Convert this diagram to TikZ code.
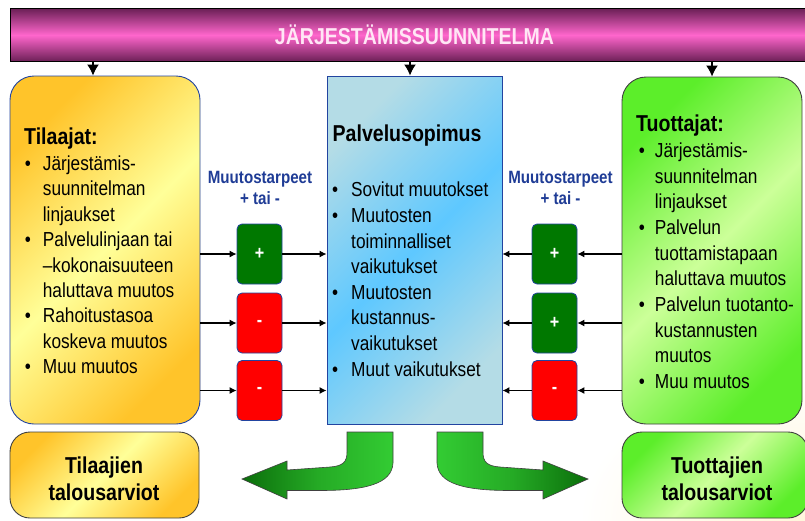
\documentclass[tikz,border=0pt]{standalone}
\usepackage{fontspec}
\setmainfont{Liberation Sans}[FakeStretch=0.85]
\usetikzlibrary{arrows.meta,calc}
\definecolor{bordblue}{HTML}{2244A0}
\definecolor{lblblue}{HTML}{1F3C96}
\definecolor{gold}{HTML}{FFC42A}
\definecolor{lyellow}{HTML}{FFFF99}
\definecolor{bluecorner}{HTML}{B4DCE6}
\definecolor{bluemid}{HTML}{5EC8FF}
\definecolor{grn1}{HTML}{5CEE2A}
\definecolor{grn2}{HTML}{CCFF99}
\definecolor{sgreen}{HTML}{007800}
\definecolor{sred}{HTML}{FF0000}
\definecolor{bardark}{HTML}{6A1F55}
\definecolor{barpink}{HTML}{FF66CC}
\definecolor{arrdark}{HTML}{0B6E0B}
\definecolor{arrmid}{HTML}{25AA25}
\definecolor{arrlight}{HTML}{33CC33}
\definecolor{glow}{HTML}{FFE9A0}
\definecolor{glowb}{HTML}{FFF6DC}
\definecolor{titlepink}{HTML}{FFE6F5}
\pgfdeclareradialshading{glowTL}{\pgfpointorigin}{color(0bp)=(glow); color(4bp)=(glow!55!white); color(9bp)=(white); color(50bp)=(white)}
\pgfdeclareradialshading{glowBR}{\pgfpointorigin}{color(0bp)=(glowb); color(4bp)=(glowb!50!white); color(7bp)=(white); color(50bp)=(white)}
\newcommand\blt[1]{\makebox[#1][l]{•}}
\newcommand\ctn[1]{\hspace*{#1}}
\begin{document}
\begin{tikzpicture}[x=1pt,y=-1pt,
  bigbox/.style={draw=bordblue, line width=0.9pt, rounded corners=24pt, inner sep=0pt},
  yellowfill/.style={top color=gold, bottom color=gold, middle color=lyellow, shading angle=45},
  greenfill/.style={top color=grn1, bottom color=grn1, middle color=grn2, shading angle=45},
  bluefill/.style={top color=bluecorner, bottom color=bluecorner, middle color=bluemid, shading angle=45},
  smallbox/.style={draw=bordblue, line width=0.8pt, rounded corners=5pt, minimum width=45pt, minimum height=60pt, inner sep=0pt, text=white, font=\fontsize{19}{19}\selectfont\bfseries},
  conn/.style={draw=black, line width=1.1pt, -{Latex[length=7pt,width=7pt]}},
  toparr/.style={draw=black, line width=1.5pt, -{Latex[length=11pt,width=12pt]}},
  ttl/.style={inner sep=0pt, font=\fontsize{23}{27}\selectfont\bfseries},
  lst/.style={inner sep=0pt, align=left},
  lbl/.style={inner sep=0pt, align=center, text=lblblue, font=\fontsize{17.8}{20.7}\selectfont\bfseries},
  bent/.style={draw=black!75, line width=0.6pt}
]
\useasboundingbox (0,0) rectangle (805,520);
\fill[white] (0,0) rectangle (805,520);
\begin{scope}
\clip (0,0) rectangle (805,520);
\shade[shading=glowTL] (-805,-520) rectangle (805,520);
\shade[shading=glowBR] (0,0) rectangle (1610,1040);
\end{scope}

% top bar
\node[draw=black, line width=1pt, minimum width=800pt, minimum height=53.5pt, inner sep=0pt,
      top color=bardark, bottom color=bardark, middle color=barpink] (plan) at (410,35) {};
\node[ttl, anchor=base, text=titlepink] (plantxt) at (414.5,44) {JÄRJESTÄMISSUUNNITELMA};

% main boxes
\node[bigbox, yellowfill, minimum width=190pt, minimum height=348pt] (tilaajat) at (105,250) {};
\node[draw=bordblue, line width=0.9pt, inner sep=0pt, bluefill, minimum width=175pt, minimum height=348pt] (sopimus) at (414.5,250) {};
\node[bigbox, draw=black!75, greenfill, minimum width=180pt, minimum height=347pt] (tuottajat) at (712,250.5) {};

% arrows from bar
\coordinate (ta) at ([xshift=-12pt]tilaajat.north);
\coordinate (sa) at ([xshift=-4.5pt]sopimus.north);
\draw[toparr] (ta |- plan.south) -- (ta);
\draw[toparr] (sa |- plan.south) -- (sa);
\draw[toparr] (tuottajat.north |- plan.south) -- (tuottajat.north);

% texts in main boxes
\node[ttl, anchor=base west] (tilttl) at (24,144.3) {Tilaajat:};
\node[lst, anchor=north west, font=\fontsize{20.3}{25.45}\selectfont] (tillst) at (24.7,150) {\rule{0pt}{20pt}\blt{18pt}Järjestämis-\\
\ctn{18pt}suunnitelman\\
\ctn{18pt}linjaukset\\
\blt{18pt}Palvelulinjaan tai\\
\ctn{18pt}–kokonaisuuteen\\
\ctn{18pt}haluttava muutos\\
\blt{18pt}Rahoitustasoa\\
\ctn{18pt}koskeva muutos\\
\blt{18pt}Muu muutos};

\node[ttl, anchor=base west] (sopttl) at (332.5,141.7) {Palvelusopimus};
\node[lst, anchor=north west, font=\fontsize{20.3}{25.6}\selectfont] (soplst) at (332,176.7) {\rule{0pt}{20pt}\blt{19pt}Sovitut muutokset\\
\blt{19pt}Muutosten\\
\ctn{19pt}toiminnalliset\\
\ctn{19pt}vaikutukset\\
\blt{19pt}Muutosten\\
\ctn{19pt}kustannus-\\
\ctn{19pt}vaikutukset\\
\blt{19pt}Muut vaikutukset};

\node[ttl, anchor=base west] (tuottl) at (636,131.7) {Tuottajat:};
\node[lst, anchor=north west, font=\fontsize{20.3}{25.67}\selectfont] (tuolst) at (638.7,137.3) {\rule{0pt}{20pt}\blt{16pt}Järjestämis-\\
\ctn{16pt}suunnitelman\\
\ctn{16pt}linjaukset\\
\blt{16pt}Palvelun\\
\ctn{16pt}tuottamistapaan\\
\ctn{16pt}haluttava muutos\\
\blt{16pt}Palvelun tuotanto-\\
\ctn{16pt}kustannusten\\
\ctn{16pt}muutos\\
\blt{16pt}Muu muutos};

% labels
\node[lbl, anchor=north] (lblL) at (260,165.3) {\rule{0pt}{18pt}Muutostarpeet\\+ tai -};
\node[lbl, anchor=north] (lblR) at (560.5,165.3) {\rule{0pt}{18pt}Muutostarpeet\\+ tai -};

% small boxes
\node[smallbox, fill=sgreen] (l1) at (259.5,254) {+};
\node[smallbox, fill=sred] (l2) at (259.5,323) {-};
\node[smallbox, fill=sred] (l3) at (259.5,390.5) {-};
\node[smallbox, fill=sgreen] (r1) at (554.5,254) {+};
\node[smallbox, fill=sgreen] (r2) at (554.5,323) {+};
\node[smallbox, fill=sred] (r3) at (554.5,390.5) {-};

% connectors
\foreach \n in {l1,l2,l3}{
  \draw[conn] (tilaajat.east |- \n) -- (\n);
  \draw[conn] (\n) -- (\n -| sopimus.west);
}
\foreach \n in {r1,r2,r3}{
  \draw[conn] (tuottajat.west |- \n) -- (\n);
  \draw[conn] (\n) -- (\n -| sopimus.east);
}

% bottom boxes
\node[bigbox, draw=black!75, rounded corners=20pt, yellowfill, minimum width=189pt, minimum height=86pt] (tilbud) at (104.5,475) {};
\node[bigbox, draw=black!75, rounded corners=20pt, greenfill, minimum width=186pt, minimum height=86pt] (tuobud) at (715,475) {};
\node[ttl, align=center, anchor=north] (tilbudtxt) at (104,453) {\rule{0pt}{20pt}Tilaajien\\talousarviot};
\node[ttl, align=center, anchor=north] (tuobudtxt) at (717,453) {\rule{0pt}{20pt}Tuottajien\\talousarviot};

% bent arrows
\draw[bent, left color=arrdark, right color=arrlight, middle color=arrmid]
  (347,432) -- (393,432) -- (393,463)
  .. controls (392,484) and (365,490.5) .. (320,490.5) -- (287,490.5)
  -- (287,499) -- (242,479) -- (287,461) -- (287,470) -- (330,467)
  .. controls (343,466) and (347,462) .. (347,452) -- cycle;
\draw[bent, left color=arrlight, right color=arrdark, middle color=arrmid]
  (483,432) -- (437,432) -- (437,463)
  .. controls (438,484) and (465,490.5) .. (510,490.5) -- (543,490.5)
  -- (543,499) -- (588,479) -- (543,461) -- (543,470) -- (500,467)
  .. controls (487,466) and (483,462) .. (483,452) -- cycle;
\end{tikzpicture}
\end{document}
